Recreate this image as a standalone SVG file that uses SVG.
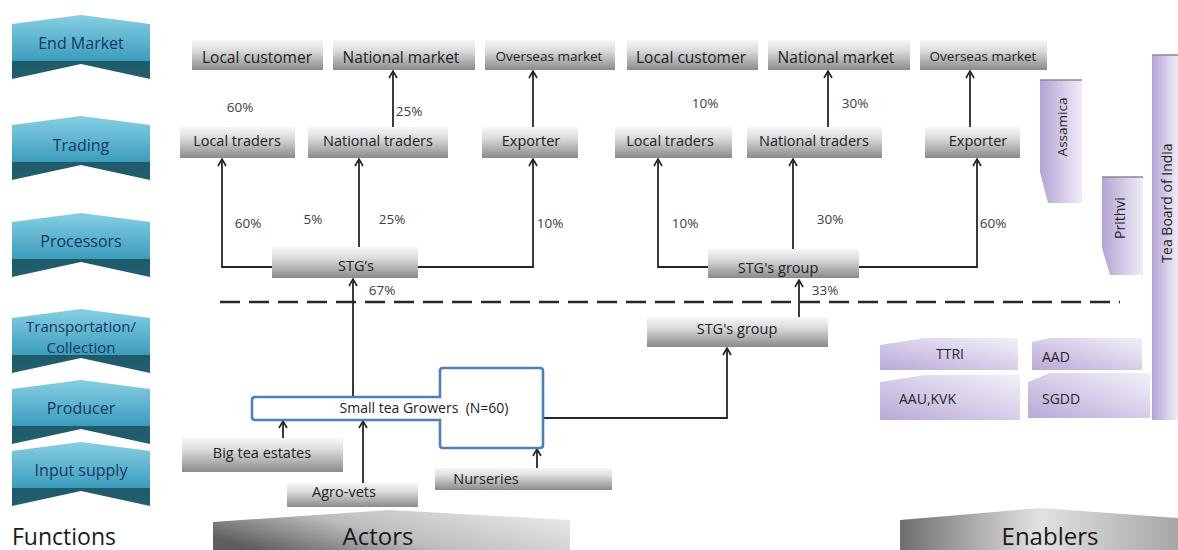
<svg xmlns="http://www.w3.org/2000/svg" width="1178" height="550" viewBox="0 0 1178 550">
<defs>
<linearGradient id="teal" x1="0" y1="0" x2="0" y2="1"><stop offset="0" stop-color="#86cfe4"/><stop offset="1" stop-color="#3b9dbd"/></linearGradient>
<linearGradient id="tealDark" x1="0" y1="0" x2="0" y2="1"><stop offset="0" stop-color="#1e5a69"/><stop offset="1" stop-color="#23606f"/></linearGradient>
<linearGradient id="gray" x1="0" y1="0" x2="0" y2="1"><stop offset="0" stop-color="#f7f7f7"/><stop offset="0.35" stop-color="#dcdcdc"/><stop offset="1" stop-color="#8a8a8a"/></linearGradient>
<linearGradient id="purpleV" x1="0" y1="0" x2="1" y2="0"><stop offset="0" stop-color="#b4a3d4"/><stop offset="0.6" stop-color="#d9d0ea"/><stop offset="1" stop-color="#efebf6"/></linearGradient>
<linearGradient id="purpleH" x1="0" y1="1" x2="1" y2="0"><stop offset="0" stop-color="#b8a8d8"/><stop offset="0.6" stop-color="#ddd5ec"/><stop offset="1" stop-color="#f2eff8"/></linearGradient>
<linearGradient id="actorsG" x1="0" y1="0.7" x2="1" y2="0.3"><stop offset="0" stop-color="#5e5e5e"/><stop offset="0.45" stop-color="#bdbdbd"/><stop offset="1" stop-color="#e6e6e6"/></linearGradient>
<linearGradient id="enablersG" x1="0" y1="0" x2="1" y2="0"><stop offset="0" stop-color="#6e6e6e"/><stop offset="0.5" stop-color="#e2e2e2"/><stop offset="1" stop-color="#a6a6a6"/></linearGradient>
<g id="chev">
<path d="M0,9 L69,0 L138,9 L138,46 L0,46 Z" fill="url(#teal)"/>
<path d="M0,46 L138,46 L138,64 L69,49 L0,64 Z" fill="url(#tealDark)"/>
</g>
<marker id="arr" viewBox="0 0 10 10" refX="9" refY="5" markerWidth="10" markerHeight="10" markerUnits="userSpaceOnUse" orient="auto">
<path d="M2,1 L9,5 L2,9" fill="none" stroke="#222" stroke-width="1.6"/>
</marker>
<style>
.fn{font-family:"Open Sans","Liberation Sans",sans-serif;font-size:16px;fill:#17375e;text-anchor:middle;dominant-baseline:central}
.bx{fill:url(#gray)}
.lb{font-family:"Open Sans","Liberation Sans",sans-serif;font-size:14.5px;fill:#222;text-anchor:middle;dominant-baseline:central}
.lt{font-size:15.5px}
.sm{font-size:13.5px}
.pc{font-family:"Open Sans","Liberation Sans",sans-serif;font-size:13.5px;fill:#404040;text-anchor:middle;dominant-baseline:central}
.en{font-family:"Open Sans","Liberation Sans",sans-serif;font-size:14px;fill:#262626;dominant-baseline:central}
.big{font-family:"Open Sans","Liberation Sans",sans-serif;font-size:24px;fill:#1a1a1a;text-anchor:middle;dominant-baseline:central}
.cn{fill:none;stroke:#262626;stroke-width:1.8}
.ar{marker-end:url(#arr)}
.pv{fill:url(#purpleV)}
.ph{fill:url(#purpleH)}
</style>
</defs>
<rect width="1178" height="550" fill="#ffffff"/>

<!-- Functions -->
<g id="fn-endmarket"><use href="#chev" x="12" y="15"/><text class="fn" x="81" y="43">End Market</text></g>
<g id="fn-trading"><use href="#chev" x="12" y="116"/><text class="fn" x="81" y="145">Trading</text></g>
<g id="fn-processors"><use href="#chev" x="12" y="213"/><text class="fn" x="81" y="241">Processors</text></g>
<g id="fn-transport"><use href="#chev" x="12" y="309"/><text class="fn" x="81" y="326" style="font-size:15px">Transportation/</text><text class="fn" x="81" y="347" style="font-size:15px">Collection</text></g>
<g id="fn-producer"><use href="#chev" x="12" y="380"/><text class="fn" x="81" y="408">Producer</text></g>
<g id="fn-input"><use href="#chev" x="12" y="442"/><text class="fn" x="81" y="470">Input supply</text></g>
<g id="functions-label"><text x="12" y="536" font-family="'Open Sans','Liberation Sans',sans-serif" font-size="23" fill="#1a1a1a" dominant-baseline="central">Functions</text></g>

<!-- Connectors -->
<g id="connectors">
<line class="cn" x1="220" y1="302" x2="1120" y2="302" stroke-dasharray="20 9" stroke="#111" style="stroke-width:2.6"/>
<path class="cn ar" d="M393,127 V71"/>
<path class="cn ar" d="M533,127 V71"/>
<path class="cn ar" d="M828,127 V71"/>
<path class="cn ar" d="M970,127 V71"/>
<path class="cn ar" d="M272,267 H222 V159"/>
<path class="cn ar" d="M359,248 V159"/>
<path class="cn ar" d="M418,267 H533 V159"/>
<path class="cn ar" d="M708,267 H658 V159"/>
<path class="cn ar" d="M793,249 V159"/>
<path class="cn ar" d="M859,267 H977 V159"/>
<path class="cn ar" d="M353,397 V279"/>
<path class="cn ar" d="M799,317 V280"/>
<path class="cn ar" d="M544,418 H727 V348"/>
<path class="cn ar" d="M283,438 V421"/>
<path class="cn ar" d="M363,483 V421"/>
<path class="cn ar" d="M537,468 V449"/>
</g>

<!-- End market -->
<g id="local-customer-1"><rect class="bx" x="192" y="40" width="131" height="30"/><text class="lb lt" x="257" y="57">Local customer</text></g>
<g id="national-market-1"><rect class="bx" x="333" y="40" width="142" height="30"/><text class="lb lt" x="401" y="57">National market</text></g>
<g id="overseas-market-1"><rect class="bx" x="485" y="40" width="130" height="30"/><text class="lb sm" x="549" y="56">Overseas market</text></g>
<g id="local-customer-2"><rect class="bx" x="627" y="40" width="131" height="30"/><text class="lb lt" x="691" y="57">Local customer</text></g>
<g id="national-market-2"><rect class="bx" x="768" y="40" width="142" height="30"/><text class="lb lt" x="836" y="57">National market</text></g>
<g id="overseas-market-2"><rect class="bx" x="920" y="40" width="127" height="30"/><text class="lb sm" x="983" y="56">Overseas market</text></g>

<!-- Trading -->
<g id="local-traders-1"><rect class="bx" x="180" y="127" width="115" height="31"/><text class="lb" x="237" y="140">Local traders</text></g>
<g id="national-traders-1"><rect class="bx" x="308" y="127" width="140" height="31"/><text class="lb" x="378" y="140">National traders</text></g>
<g id="exporter-1"><rect class="bx" x="482" y="127" width="96" height="31"/><text class="lb" x="531" y="140">Exporter</text></g>
<g id="local-traders-2"><rect class="bx" x="615" y="127" width="117" height="31"/><text class="lb" x="670" y="140">Local traders</text></g>
<g id="national-traders-2"><rect class="bx" x="747" y="127" width="135" height="31"/><text class="lb" x="814" y="140">National traders</text></g>
<g id="exporter-2"><rect class="bx" x="925" y="127" width="95" height="31"/><text class="lb" x="978" y="140">Exporter</text></g>

<!-- Processors -->
<g id="stgs"><rect class="bx" x="272" y="247" width="146" height="31"/><text class="lb" x="356" y="265">STG’s</text></g>
<g id="stg-group-1"><rect class="bx" x="708" y="249" width="151" height="29"/><text class="lb" x="778" y="267">STG's group</text></g>
<g id="stg-group-2"><rect class="bx" x="647" y="317" width="181" height="30"/><text class="lb" x="737" y="328">STG's group</text></g>

<!-- Percentages -->
<g id="percent-labels">
<text class="pc" x="240" y="107">60%</text>
<text class="pc" x="409" y="111">25%</text>
<text class="pc" x="705" y="103">10%</text>
<text class="pc" x="855" y="103">30%</text>
<text class="pc" x="248" y="223">60%</text>
<text class="pc" x="313" y="219">5%</text>
<text class="pc" x="392" y="219">25%</text>
<text class="pc" x="550" y="223">10%</text>
<text class="pc" x="382" y="290">67%</text>
<text class="pc" x="685" y="223">10%</text>
<text class="pc" x="830" y="219">30%</text>
<text class="pc" x="993" y="223">60%</text>
<text class="pc" x="825" y="290">33%</text>
</g>

<!-- Producer -->
<g id="small-tea-growers">
<path d="M255,397 H440 V371 Q440,368 443,368 H540 Q543,368 543,371 V445 Q543,448 540,448 H443 Q440,448 440,445 V420 H255 Q252,420 252,417 V400 Q252,397 255,397 Z" fill="#ffffff" stroke="#4f7fbf" stroke-width="2.6"/>
<text class="lb" x="424" y="407" style="font-size:14px" xml:space="preserve">Small tea Growers  (N=60)</text>
</g>

<!-- Input supply -->
<g id="big-tea-estates"><rect class="bx" x="182" y="438" width="161" height="34"/><text class="lb" x="262" y="452">Big tea estates</text></g>
<g id="agro-vets"><rect class="bx" x="287" y="483" width="131" height="24"/><text class="lb" x="344" y="491">Agro-vets</text></g>
<g id="nurseries"><rect class="bx" x="435" y="468" width="177" height="22"/><text class="lb" x="486" y="478">Nurseries</text></g>

<!-- Enablers -->
<g id="assamica"><path class="pv" d="M1040,80 H1082 V203 H1048 L1040,172 Z"/><line x1="1040" y1="80" x2="1082" y2="80" stroke="#8a8a8a" stroke-width="1.5"/><text class="en" x="1062" y="127" text-anchor="middle" transform="rotate(-90 1062 127)" style="font-size:13.5px">Assamica</text></g>
<g id="prithvi"><path class="pv" d="M1102,177 H1143 V275 H1110 L1102,248 Z"/><line x1="1102" y1="177" x2="1143" y2="177" stroke="#8a8a8a" stroke-width="1.5"/><text class="en" x="1119" y="218" text-anchor="middle" transform="rotate(-90 1119 218)">Prithvi</text></g>
<g id="tea-board"><rect class="pv" x="1152" y="55" width="26" height="365"/><line x1="1152" y1="55" x2="1178" y2="55" stroke="#8a8a8a" stroke-width="1.5"/><text class="en" x="1166" y="203" text-anchor="middle" transform="rotate(-90 1166 203)">Tea Board of India</text></g>
<g id="ttri"><path class="ph" d="M880,345 L925,338 H1018 V370 H880 Z"/><text class="en" x="950" y="353" text-anchor="middle">TTRI</text></g>
<g id="aad"><path class="ph" d="M1032,342 L1050,338 H1142 V370 H1032 Z"/><text class="en" x="1042" y="356">AAD</text></g>
<g id="aau-kvk"><path class="ph" d="M880,382 L925,375 H1020 V420 H880 Z"/><text class="en" x="899" y="398">AAU,KVK</text></g>
<g id="sgdd"><path class="ph" d="M1028,382 L1050,373 H1150 V418 H1028 Z"/><text class="en" x="1042" y="398">SGDD</text></g>

<!-- Bottom labels -->
<g id="actors"><path d="M213,522 L390,510 L570,520 V550 H213 Z" fill="url(#actorsG)"/><text class="big" x="378" y="535">Actors</text></g>
<g id="enablers"><path d="M900,520 L1040,508 L1178,518 V550 H900 Z" fill="url(#enablersG)"/><text class="big" x="1050" y="535">Enablers</text></g>
</svg>
